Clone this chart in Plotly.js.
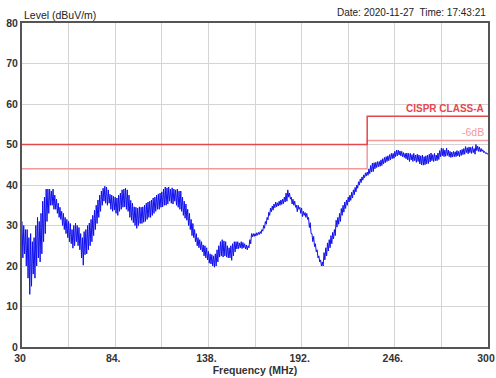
<!DOCTYPE html>
<html><head><meta charset="utf-8">
<script src="https://cdn.plot.ly/plotly-3.0.1.min.js"></script>
<style>html,body{margin:0;padding:0;background:#fff;}#chart{width:496px;height:378px;}</style>
</head><body><div id="chart"></div>
<script>
// Sweep: one peak and one trough per MHz, 30..300 MHz
const sweepStartMHz = 30;
const peakLevels = [
31,30,29,29,27,28,26,27,30,32,31,33,36,37,39,39,39,38.5,39,37.5,
36.5,35.5,34.5,33.5,33,32,31.5,31,30.5,29,30,30.6,30,29.5,28,27,28.5,29,30,30.6,
31.5,32.5,33.8,35,36.3,37.5,38.5,39.2,39.7,39.5,38.8,37.7,37.5,37.2,37,36.8,37.5,38,38.8,39,
39.2,38.8,37.5,36.2,35.5,34.6,34.5,34.3,34.6,34.5,34.6,35,35.5,35.8,36,36.3,36.8,37,37.5,37.8,
38,38.3,39,39.5,39.3,39.5,39,39.3,39,38.8,39,38.5,38.5,37,36,35.3,34,33,31.5,30.5,
29,28,27,26.5,26,25.2,25,24.5,23.6,23,22.8,22.5,23,24,25,26,26.5,26.2,26,25,
24.5,25,25.5,26,26,26,25.7,26,25.8,25.5,25.2,25,26.5,28,28,28,28.2,28.3,28.5,29,
30,31,32,33.3,34.3,34.8,35.3,35.8,35.6,36,36.3,36.5,37,38,38.8,38,37,36.5,36,35,
35,34.5,34.3,33.5,33.2,33,32,30.7,28,27.3,25.5,24,22.5,21.5,21,23.3,24.5,25.7,26.5,27.5,
28.3,29,31.3,32,33,34.2,35,35.8,36.3,37,37.5,38.2,38.8,39.4,40,40.8,41.5,42,42.5,43,
43.2,44,44.8,45.4,45.5,45.6,45.8,45.8,46.2,46.5,46.8,47,47.2,47.5,47.8,47.8,48.3,48.6,48.6,48.4,
48.3,48,47.8,47.9,47.8,47.8,47.5,47.8,47.4,47.6,47.4,47.2,47.4,47,47.2,47.4,47.6,47.9,47.5,47.8,
47.4,47.9,48.5,49.1,49,48.6,49.1,48.6,48.3,48.1,48.3,48.2,48.5,48.3,48.6,48.8,49,49.5,49.2,49.4,
49.3,49.5,49,50,49.6,49.4,49,48.7,48.3,48,47.8
];
const troughLevels = [
22,23,20,17,13,15,18,17,20,22,21,23,26,28,31,33,35,35,34,34,
33,32,31.5,30,29,28,27,26,25.5,24.4,25,26,25,24,22,20.2,22.8,23,24,25,
26,27.5,29,30.5,32,33.5,35,36,35.5,35,35.5,34,33.5,33.8,33,32.5,33.5,34,34.5,34.6,
34,33.5,32,31.3,30.7,30,29.3,30,30.5,30.5,30.8,31,31.5,32,32,32.5,33,33.5,34,34,
34.5,34.6,35,35,35.3,36,35.5,35.3,36,35,34.5,34,33.5,32.5,31.8,31.3,30,29,27.5,27,
26,25,24.5,24,23.5,22.5,22,21.5,20.7,20.5,20,19.7,20,21,22.2,22.5,22.2,22.5,22.2,22,
22,21.4,22.5,23.5,24.2,24.3,24.5,24.3,24.5,24.2,24,24.5,25.5,27.2,27.3,27.4,27.6,27.8,28,28.6,
29.3,30.3,31.4,32.5,33.4,33.8,34.4,34.6,34.8,35,35.2,35.4,35.8,36,37,36.5,35.3,35,34.5,33.4,
34,33,32.2,32.5,32,31.5,29.5,28,26,24.8,23.5,22,21,20,20,21.5,22.5,23.7,24.5,25.5,
26.7,27.5,29.6,30.3,31,32.5,33.3,34.2,35,35.8,36.2,36.8,37.6,38.3,39.2,40,40.6,41.2,41.8,42.2,
42.4,42.8,43.2,43.3,44,44.3,44.5,44.6,44.8,45.2,45.5,45.8,46,46.2,46.5,46.6,47,47.2,47.4,47.2,
47,46.8,46.5,46.2,45.8,46.2,45.8,46,45.6,45.8,45.2,45,44.9,45,45.2,45.3,45.7,46,45.8,46,
46,46.3,47,47.2,47,47.1,47.3,47,46.8,46.9,47,47,47.2,47,47.3,47.5,47.6,48,47.7,48,
47.8,48,47.6,48.5,48.3,48.2,48.3,48,47.8,47.6,47.5
];
// CISPR limit lines
const limitFreq = [30, 230, 230, 300];
const classALimit = [50, 50, 57, 57];
const minus6Limit = [44, 44, 51, 51];
// Axis ticks
const xGridVals = [30, 57, 84, 111, 138, 165, 192, 219, 246, 273, 300];
const xTickText = ['30', '', '84.', '', '138.', '', '192.', '', '246.', '', '300'];
const yTickVals = [0, 10, 20, 30, 40, 50, 60, 70, 80];

// interleave peak/trough readings into the sweep trace
const sweep = [];
for (let i = 0; i < peakLevels.length; i++) {
  sweep.push(peakLevels[i]);
  if (i < troughLevels.length) sweep.push(troughLevels[i]);
}

const FAM = 'Arial, Liberation Sans, sans-serif';
const boldFont = {family: FAM, size: 10.5, color: '#333', weight: 'bold'};
const data = [
  {type: 'scatter', mode: 'lines', x0: sweepStartMHz, dx: 0.5, y: sweep,
   line: {color: '#1010ee', width: 1}, hoverinfo: 'skip'},
  {type: 'scatter', mode: 'lines', x: limitFreq, y: minus6Limit,
   line: {color: '#f29a9a', width: 1.5}},
  {type: 'scatter', mode: 'lines', x: limitFreq, y: classALimit,
   line: {color: '#e6474c', width: 1.5}}
];
const layout = {
  width: 496, height: 378,
  margin: {l: 22, r: 8, t: 23, b: 31},
  paper_bgcolor: '#fff', plot_bgcolor: '#fff',
  showlegend: false,
  font: {family: FAM, size: 10.5, color: '#333'},
  xaxis: {
    range: [30, 300.0001], tickmode: 'array', tickvals: xGridVals, ticktext: xTickText,
    showgrid: true, gridcolor: '#d4d4d4', gridwidth: 1,
    showline: true, linecolor: '#555', linewidth: 2, mirror: true,
    zeroline: false, ticks: '', ticklabeloverflow: 'allow', ticklabelshift: -2,
    tickfont: boldFont,
    title: {text: 'Frequency (MHz)', standoff: 2, font: boldFont}
  },
  yaxis: {
    range: [0, 80], tickmode: 'array', tickvals: yTickVals,
    showgrid: true, gridcolor: '#d4d4d4', gridwidth: 1,
    showline: true, linecolor: '#555', linewidth: 2, mirror: true,
    zeroline: false, ticks: '', ticklabelstandoff: 0,
    tickfont: boldFont
  },
  annotations: [
    {xref: 'paper', yref: 'paper', x: 0, y: 1, xanchor: 'left', yanchor: 'bottom', yshift: 0,
     text: 'Level (dBuV/m)', showarrow: false,
     font: {family: FAM, size: 10.5, color: '#222'}},
    {xref: 'paper', yref: 'paper', x: 1, y: 1, xanchor: 'right', yanchor: 'bottom', yshift: 3,
     text: 'Date: 2020-11-27  Time: 17:43:21', showarrow: false,
     font: {family: FAM, size: 10, color: '#222'}},
    {xref: 'x', yref: 'y', x: 300, y: 57, xanchor: 'right', yanchor: 'bottom', xshift: -2,
     text: '<b>CISPR CLASS-A</b>', showarrow: false,
     font: {family: FAM, size: 10, color: '#e6474c'}},
    {xref: 'x', yref: 'y', x: 300, y: 51, xanchor: 'right', yanchor: 'bottom', xshift: -2,
     text: '-6dB', showarrow: false,
     font: {family: FAM, size: 10.5, color: '#f29a9a'}}
  ]
};
Plotly.newPlot('chart', data, layout, {displayModeBar: false, staticPlot: true});
</script>
</body></html>
